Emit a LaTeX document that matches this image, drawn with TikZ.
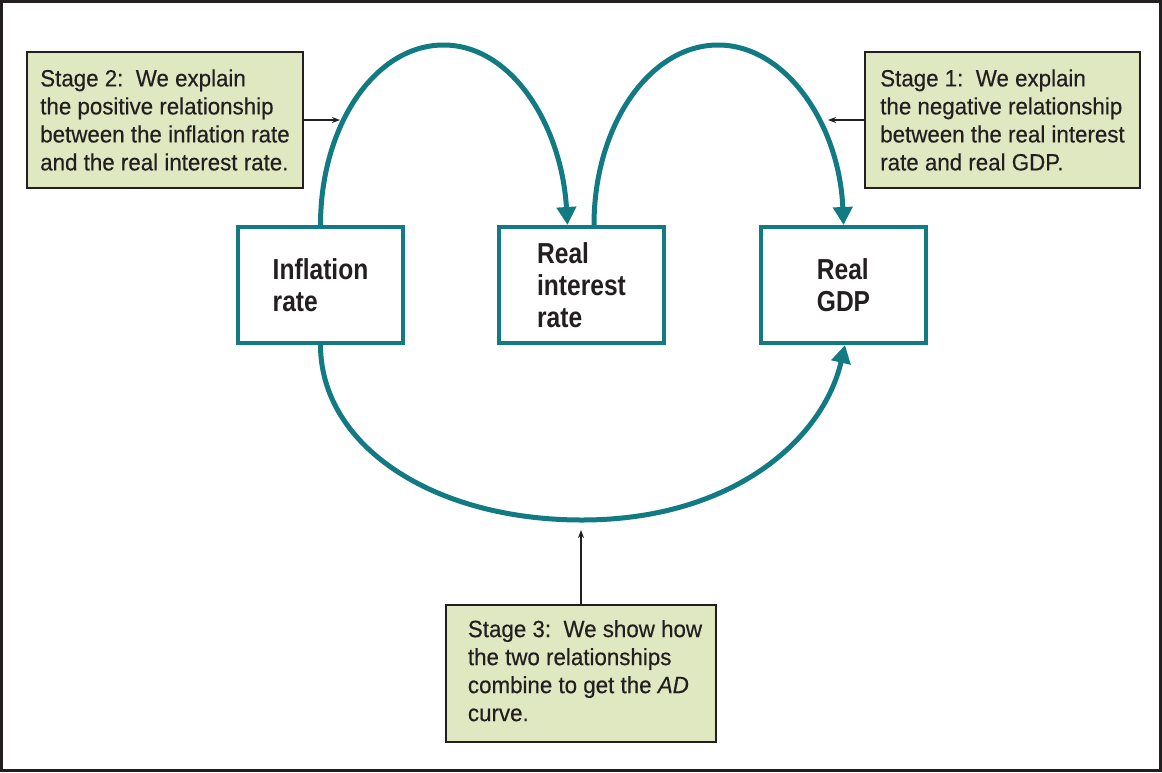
\documentclass[tikz,border=0pt]{standalone}
\usepackage{fontspec}
\setmainfont{Liberation Sans}[FakeStretch=0.95,FakeBold=0.4]
\newfontfamily\boxfont{Liberation Sans}[FakeStretch=0.85]
\usetikzlibrary{arrows.meta,calc}
\definecolor{tealc}{RGB}{17,122,130}
\definecolor{notefill}{RGB}{224,232,194}
\definecolor{ink}{RGB}{35,31,32}
\tikzset{
  varbox/.style={draw=tealc, line width=4pt, fill=white, align=left, text=ink,
    minimum width=165pt, minimum height=116pt, inner sep=0pt,
    font=\boxfont\bfseries\fontsize{28.9}{32}\selectfont},
  notebox/.style={draw=ink, line width=2pt, fill=notefill, align=left, text=ink,
    inner sep=0pt, font=\fontsize{23.5}{28}\selectfont},
  flow/.style={draw=tealc, line width=5pt, -{Triangle[width=19pt,length=18pt]}},
  pointer/.style={draw=ink, line width=1.3pt, -{Stealth[width=6pt,length=8pt]}}
}
\begin{document}
\begin{tikzpicture}[x=1pt,y=-1pt]
\useasboundingbox (0,0) rectangle (1162,772);
\draw[line width=2.5pt, ink] (1.5,1.5) rectangle (1160.5,770.5);

\node[varbox] (infl) at (320.5,285) {Inflation\\rate};
\node[varbox] (rir) at (581.5,285) {Real\\interest\\rate};
\node[varbox] (gdp) at (843.5,285) {Real\\GDP};

\node[notebox, minimum width=276pt, minimum height=136pt] (s2) at (165,120)
  {Stage 2:\ \ We explain\\the positive relationship\\between the inflation rate\\and the real interest rate.};
\node[notebox, minimum width=275pt, minimum height=136pt] (s1) at (1002.5,120)
  {Stage 1:\ \ We explain\\the negative relationship\\between the real interest\\rate and real GDP.};
\node[notebox, minimum width=270pt, minimum height=137pt] (s3) at (581,673.5)
  {\hspace*{8pt}\begin{tabular}{@{}l@{}}Stage 3:\ \ We show how\\the two relationships\\combine to get the \textit{AD}\\curve.\end{tabular}};

\coordinate (apex1) at (443.5,45);
\coordinate (apex2) at (718,45);
\coordinate (apex3) at (582,520);
\coordinate (t2) at (340,120);
\coordinate (t1) at (828,120);
\coordinate (t3) at (581,530);

\draw[flow] (infl.north) .. controls +(0,-100) and +(-68,0) .. (apex1)
  .. controls +(68,0) and +(-6,-100) .. ([xshift=-14pt]rir.north);
\draw[flow] ([xshift=12.5pt]rir.north) .. controls +(0,-100) and +(-68,0) .. (apex2)
  .. controls +(68,0) and +(-4,-100) .. (gdp.north);
\draw[flow] (infl.south) .. controls +(0,100) and +(-150,0) .. (apex3)
  .. controls +(150,0) and +(-22,95) .. ([xshift=1.5pt]gdp.south);

\draw[pointer] (s2.east) -- (t2);
\draw[pointer] (s1.west) -- (t1);
\draw[pointer] (s3.north) -- (t3);
\end{tikzpicture}
\end{document}
